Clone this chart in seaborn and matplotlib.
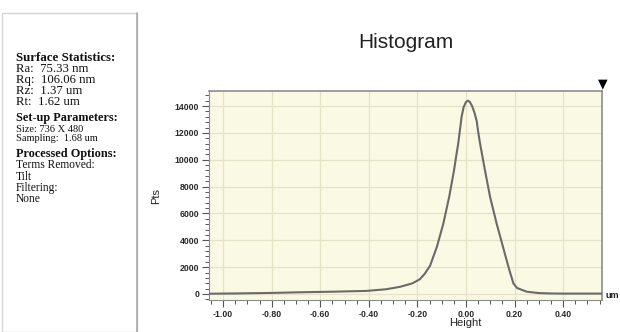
import numpy as np
import pandas as pd
import matplotlib
matplotlib.use("Agg")
import matplotlib.pyplot as plt
import seaborn as sns
from matplotlib.ticker import MultipleLocator, FormatStrFormatter
from matplotlib.patches import Rectangle

# ---- data ----
height_um = [-1.06, -0.95, -0.80, -0.68, -0.55, -0.41, -0.33, -0.27, -0.22, -0.19,
             -0.17, -0.148, -0.12, -0.093, -0.069, -0.049, -0.04, -0.032, -0.025,
             -0.018, -0.01, 0.0, 0.008, 0.016, 0.025, 0.035, 0.044, 0.05, 0.058,
             0.078, 0.099, 0.126, 0.16, 0.18, 0.195, 0.21, 0.25, 0.30, 0.35,
             0.40, 0.48, 0.56]
pts = [20, 40, 80, 130, 170, 230, 350, 540, 800, 1100,
       1500, 2100, 3500, 5260, 7250, 9230, 10300, 11200, 12200,
       13200, 13900, 14300, 14400, 14300, 14000, 13500, 12900, 12100, 11200,
       9230, 7250, 5260, 3000, 1700, 800, 450, 170, 70, 40,
       30, 30, 30]

stats_lines = ["Ra:  75.33 nm", "Rq:  106.06 nm", "Rz:  1.37 um", "Rt:  1.62 um"]
setup_lines = ["Size: 736 X 480", "Sampling:  1.68 um"]
proc_lines = ["Terms Removed:", "Tilt", "Filtering:", "None"]
x_ticks = [-1.0, -0.8, -0.6, -0.4, -0.2, 0.0, 0.2, 0.4]
y_ticks = [0, 2000, 4000, 6000, 8000, 10000, 12000, 14000]

df = pd.DataFrame({"Height": height_um, "Pts": pts})

sns.set_style("white")
plt.rcParams["font.family"] = ["Liberation Sans", "DejaVu Sans"]

W, H = 620, 332
fig = plt.figure(figsize=(W / 100, H / 100), dpi=100)
fig.patch.set_facecolor("white")

# ---- axes ----
L, R, T, B = 209, 602, 91, 300
ax = fig.add_axes([L / W, 1 - B / H, (R - L) / W, (B - T) / H])
ax.set_facecolor("#fafae4")
sns.lineplot(data=df, x="Height", y="Pts", ax=ax, color="#6a6a6a", lw=1.5,
             zorder=3)
ax.set_xlim(-1.058, 0.56)
ax.set_ylim(-447, 15120)
ax.set_xticks(x_ticks)
ax.set_yticks(y_ticks)
ax.xaxis.set_minor_locator(MultipleLocator(0.05))
ax.yaxis.set_minor_locator(MultipleLocator(400))
ax.xaxis.set_major_formatter(FormatStrFormatter("%.2f"))
ax.grid(True, which="major", color="#e6e2c8", lw=0.9, zorder=0)
ax.set_axisbelow(True)
for s in ["top", "right"]:
    ax.spines[s].set_color("#8c8c8c")
    ax.spines[s].set_linewidth(1.2)
ax.spines["left"].set_color("#8c8c8c")
ax.spines["bottom"].set_color("#8c8c8c")
ax.tick_params(axis="both", which="major", direction="out", length=5, width=0.8,
               color="#555555", labelsize=6.3, pad=2)
ax.tick_params(axis="both", which="minor", direction="out", length=3, width=0.7,
               color="#555555")
ax.tick_params(axis="both", which="both", bottom=True, left=True)
for lab in ax.get_xticklabels() + ax.get_yticklabels():
    lab.set_fontweight("bold")
    lab.set_color("#2a2a2a")
ax.set_xlabel("Height", fontsize=8, labelpad=0, color="#222222")
ax.xaxis.set_label_coords((465 - L) / (R - L), -0.085)
ax.set_ylabel("Pts", fontsize=8, labelpad=10, color="#222222")

fig.text(406 / W, 1 - 43 / H, "Histogram", fontsize=15, ha="center",
         va="center", color="#222222")
fig.text(606 / W, 1 - 296 / H, "um", fontsize=6.5, fontweight="bold",
         ha="left", va="center", color="#222222")
fig.text(603 / W, 1 - 84 / H, "\u25BC", fontsize=9, ha="center", va="center",
         color="black", family="DejaVu Sans")

# ---- left panel ----
fig.patches.append(Rectangle((2 / W, 0), (137 - 2) / W, 1 - 13 / H,
                             transform=fig.transFigure, fill=False,
                             edgecolor="#d6d6d6", lw=1.0))
fig.add_artist(plt.Line2D([137 / W, 137 / W], [0, 1 - 13 / H],
                          transform=fig.transFigure, color="#a8a8a8", lw=1.2))

serif = ["Liberation Serif", "DejaVu Serif"]
x0 = 16 / W


def header(base_y, s, size):
    fig.text(x0, 1 - base_y / H, s, fontsize=size, family=serif,
             fontweight="bold", ha="left", va="baseline", color="#111111")


def body(last_base_y, lines, size, ls):
    # va="baseline" on a multi-line text aligns the baseline of its last line
    fig.text(x0, 1 - last_base_y / H, "\n".join(lines), fontsize=size,
             family=serif, ha="left", va="baseline", linespacing=ls,
             color="#111111")


header(61, "Surface Statistics:", 9.3)
body(105.3, stats_lines, 9.2, 0.905)
header(120.7, "Set-up Parameters:", 8.8)
body(141, setup_lines, 7.5, 1.05)
header(157.3, "Processed Options:", 8.8)
body(202.3, proc_lines, 8.3, 0.93)

fig.savefig("out.png", dpi=100, facecolor="white")
